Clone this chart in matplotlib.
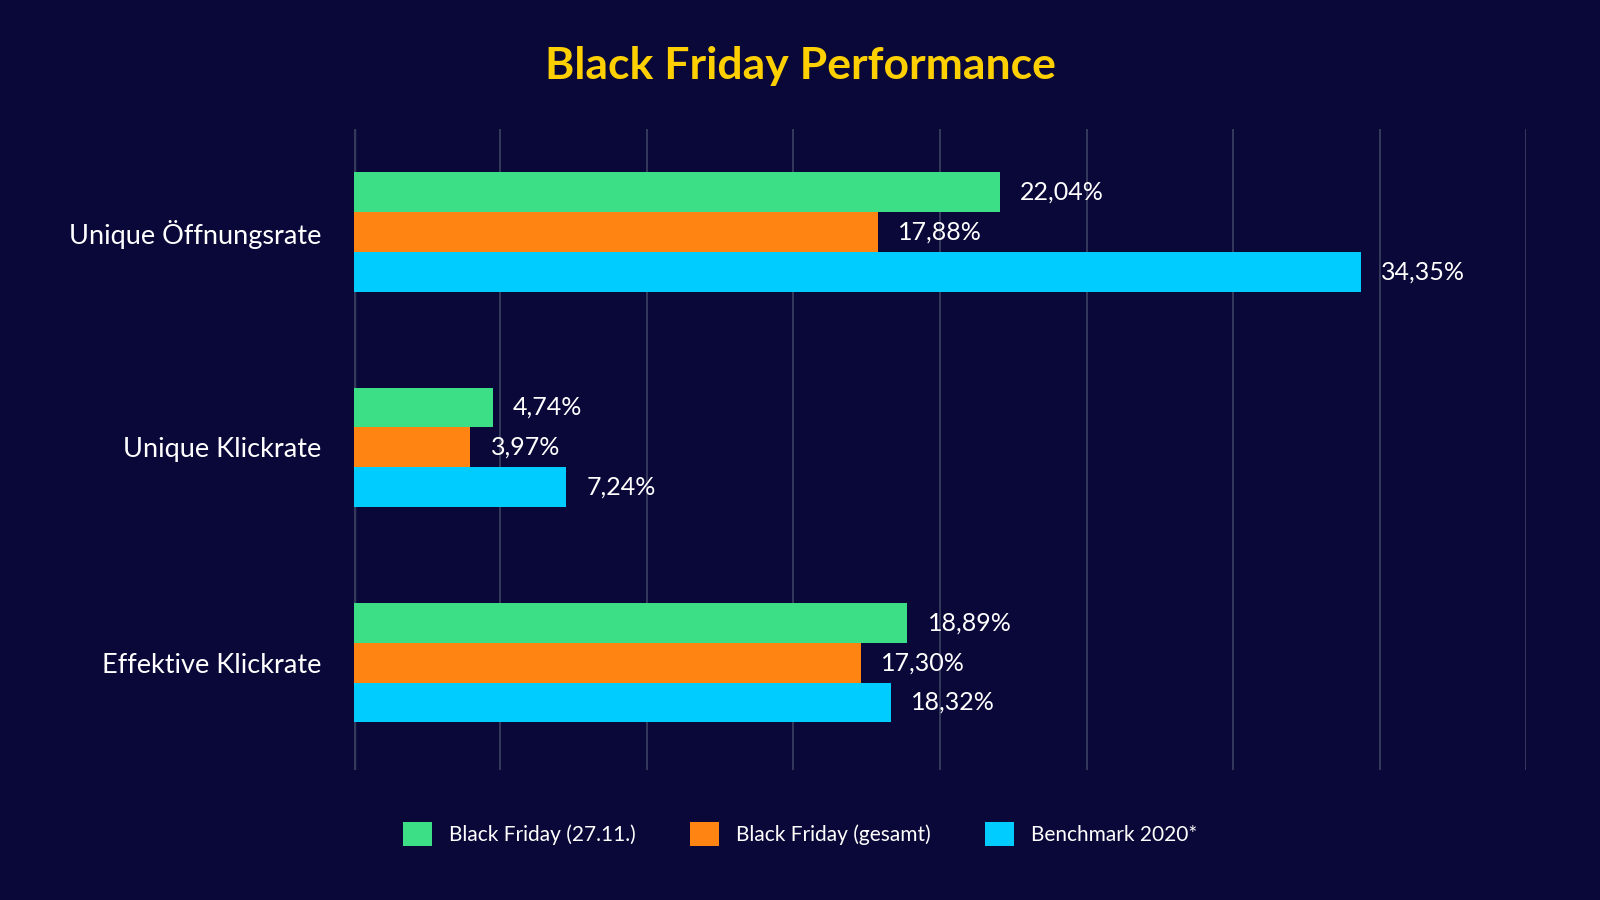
import numpy as np
import matplotlib.pyplot as plt
from matplotlib.patches import Patch

plt.rcParams['font.family'] = ['Lato', 'DejaVu Sans']

kategorien = ['Unique Öffnungsrate', 'Unique Klickrate', 'Effektive Klickrate']
serien = ['Black Friday (27.11.)', 'Black Friday (gesamt)', 'Benchmark 2020*']
bf_tag = [22.04, 4.74, 18.89]
bf_gesamt = [17.88, 3.97, 17.30]
benchmark = [34.35, 7.24, 18.32]
farben = ['#3ddf86', '#ff8412', '#00ccff']

bg = '#0a0838'
fig = plt.figure(figsize=(16, 9), dpi=100, facecolor=bg)
ax = fig.add_axes([0.221, 0.144, 0.733, 0.713], facecolor=bg)

y = np.arange(len(kategorien))
h = 0.185
for i, (werte, farbe) in enumerate(zip([bf_tag, bf_gesamt, benchmark], farben)):
    pos = y + (i - 1) * h
    ax.barh(pos, werte, height=h, color=farbe, zorder=3)
    for p, w in zip(pos, werte):
        ax.text(w + 0.7, p, f'{w:.2f}%'.replace('.', ','), va='center', ha='left',
                color='white', fontsize=18, zorder=4)

ax.set_xlim(0, 40)
ax.set_ylim(2.5, -0.48)
ax.set_xticks(np.arange(5, 41, 5))
ax.xaxis.grid(True, color='#3c4263', linewidth=1.2, zorder=0)
ax.axvline(0, color='#333a5c', linewidth=2.5, zorder=2)
ax.tick_params(axis='x', length=0, labelbottom=False)
ax.tick_params(axis='y', length=0, pad=23, labelsize=19.5, labelcolor='white')
ax.set_yticks(y)
ax.set_yticklabels(kategorien)
for s in ax.spines.values():
    s.set_visible(False)

fig.text(0.5, 1 - 66 / 900, 'Black Friday Performance', ha='center', va='center',
         color='#ffd000', fontsize=32, fontweight='bold')

handles = [Patch(facecolor=f, edgecolor='none') for f in farben]
fig.legend(handles, serien, loc='center', bbox_to_anchor=(0.5, 1 - 834 / 900),
           ncol=3, frameon=False, fontsize=15, labelcolor='white',
           handlelength=1.4, handleheight=1.4, handletextpad=0.8, columnspacing=2.6)

fig.savefig('out.png', facecolor=bg)
